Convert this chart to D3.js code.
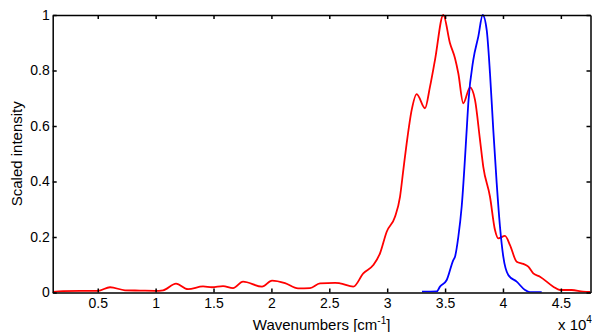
<!DOCTYPE html>
<html lang="en">
<head>
<meta charset="UTF-8">
<title>Scaled intensity</title>
<script src="https://d3js.org/d3.v7.min.js"></script>
<style>
  body { margin: 0; background: #fff; }
  svg { display: block; font-family: "Liberation Sans", Arial, sans-serif; }
  .axis text { font-size: 14px; fill: #000; }
  .axis path, .axis line { stroke: #000; stroke-width: 1.5; }
</style>
</head>
<body>
<svg id="chart" width="592" height="332"></svg>
<script>
// red spectrum: wavenumbers and scaled intensity
const redWn = [1110, 2000, 5026, 6062, 7358, 8653, 9949, 10640, 11762, 12798, 14094, 14871, 15821, 16685, 17548,
  19189, 20053, 21175, 22298, 23334, 24198, 25493, 25925, 27074, 27937, 28801, 29379, 29958, 30675, 31107,
  31392, 31685, 32117, 32549, 33266, 33698, 34130, 34846, 35425, 35857, 36142, 36573, 37152, 37584, 38016,
  38300, 38879, 39311, 39596, 40174, 40606, 41185, 41755, 42187, 42618, 43197, 44346, 44925, 45935, 46911, 47560];
const redInt = [0.002, 0.005, 0.006, 0.019, 0.008, 0.007, 0.006, 0.008, 0.032, 0.012, 0.022, 0.019, 0.023, 0.016, 0.039,
  0.021, 0.043, 0.034, 0.015, 0.016, 0.033, 0.035, 0.033, 0.021, 0.069, 0.099, 0.141, 0.219, 0.273, 0.345,
  0.441, 0.538, 0.658, 0.715, 0.664, 0.742, 0.838, 1.0, 0.898, 0.844, 0.79, 0.682, 0.739, 0.694, 0.55,
  0.453, 0.345, 0.225, 0.195, 0.204, 0.171, 0.111, 0.103, 0.093, 0.069, 0.057, 0.021, 0.009, 0.009, 0.003, 0.002];

// blue spectrum
const blueWn = [33006, 34276, 34561, 35140, 35710, 35857, 36142, 36435, 36867, 37005, 37437, 37869, 38249,
  38594, 38879, 39164, 39458, 39743, 40028, 40460, 41185, 41902, 42334, 43344];
const blueInt = [0.003, 0.004, 0.021, 0.045, 0.117, 0.129, 0.2, 0.31, 0.586, 0.682, 0.838, 0.922, 1.0,
  0.946, 0.79, 0.586, 0.394, 0.237, 0.129, 0.063, 0.039, 0.009, 0.001, 0.001];

const xTicks = [5000, 10000, 15000, 20000, 25000, 30000, 35000, 40000, 45000];
const yTicks = [0, 0.2, 0.4, 0.6, 0.8, 1];

const svg = d3.select("#chart");
const pLeft = 52.7, pRight = 590.5, pTop = 15, pBottom = 292.5;

const x = d3.scaleLinear().domain([1110, 47560]).range([pLeft, pRight]);
const y = d3.scaleLinear().domain([0, 1]).range([pBottom, pTop]);

svg.append("clipPath").attr("id", "clip")
  .append("rect")
  .attr("x", pLeft).attr("y", pTop - 1)
  .attr("width", pRight - pLeft).attr("height", pBottom - pTop + 1);

const line = d3.line()
  .x(d => x(d[0]))
  .y(d => y(d[1]))
  .curve(d3.curveMonotoneX);

const plot = svg.append("g").attr("clip-path", "url(#clip)");

plot.append("path")
  .datum(redWn.map((w, i) => [w, redInt[i]]))
  .attr("fill", "none")
  .attr("stroke", "#ff0000")
  .attr("stroke-width", 1.8)
  .attr("d", line);

plot.append("path")
  .datum(blueWn.map((w, i) => [w, blueInt[i]]))
  .attr("fill", "none")
  .attr("stroke", "#0000ff")
  .attr("stroke-width", 1.8)
  .attr("d", line);

// axes, ticks inward like matlab
svg.append("g").attr("class", "axis")
  .attr("transform", "translate(0," + pBottom + ")")
  .call(d3.axisBottom(x).tickValues(xTicks).tickSize(-4).tickSizeOuter(0).tickPadding(6)
    .tickFormat(d => d3.format("~g")(d / 10000)));

svg.append("g").attr("class", "axis")
  .attr("transform", "translate(0," + pTop + ")")
  .call(d3.axisTop(x).tickValues(xTicks).tickSize(-4).tickSizeOuter(0).tickFormat(""));

svg.append("g").attr("class", "axis")
  .attr("transform", "translate(" + pLeft + ",0)")
  .call(d3.axisLeft(y).tickValues(yTicks).tickSize(-4).tickSizeOuter(0).tickPadding(3)
    .tickFormat(d3.format("~g")));

svg.append("g").attr("class", "axis")
  .attr("transform", "translate(" + pRight + ",0)")
  .call(d3.axisRight(y).tickValues(yTicks).tickSize(-4).tickSizeOuter(0).tickFormat(""));

svg.selectAll(".axis text").attr("font-family", null);

// labels
svg.append("text")
  .attr("x", (pLeft + pRight) / 2).attr("y", 330)
  .attr("text-anchor", "middle")
  .style("font-size", "15px")
  .html('Wavenumbers [cm<tspan dy="-6" font-size="10px">-1</tspan><tspan dy="6">]</tspan>');

svg.append("text")
  .attr("transform", "translate(22," + (pTop + pBottom) / 2 + ") rotate(-90)")
  .attr("text-anchor", "middle")
  .style("font-size", "15px")
  .text("Scaled intensity");

svg.append("text")
  .attr("x", 558).attr("y", 330)
  .style("font-size", "15px")
  .html('x 10<tspan dy="-7" font-size="10px">4</tspan>');
</script>
</body>
</html>
